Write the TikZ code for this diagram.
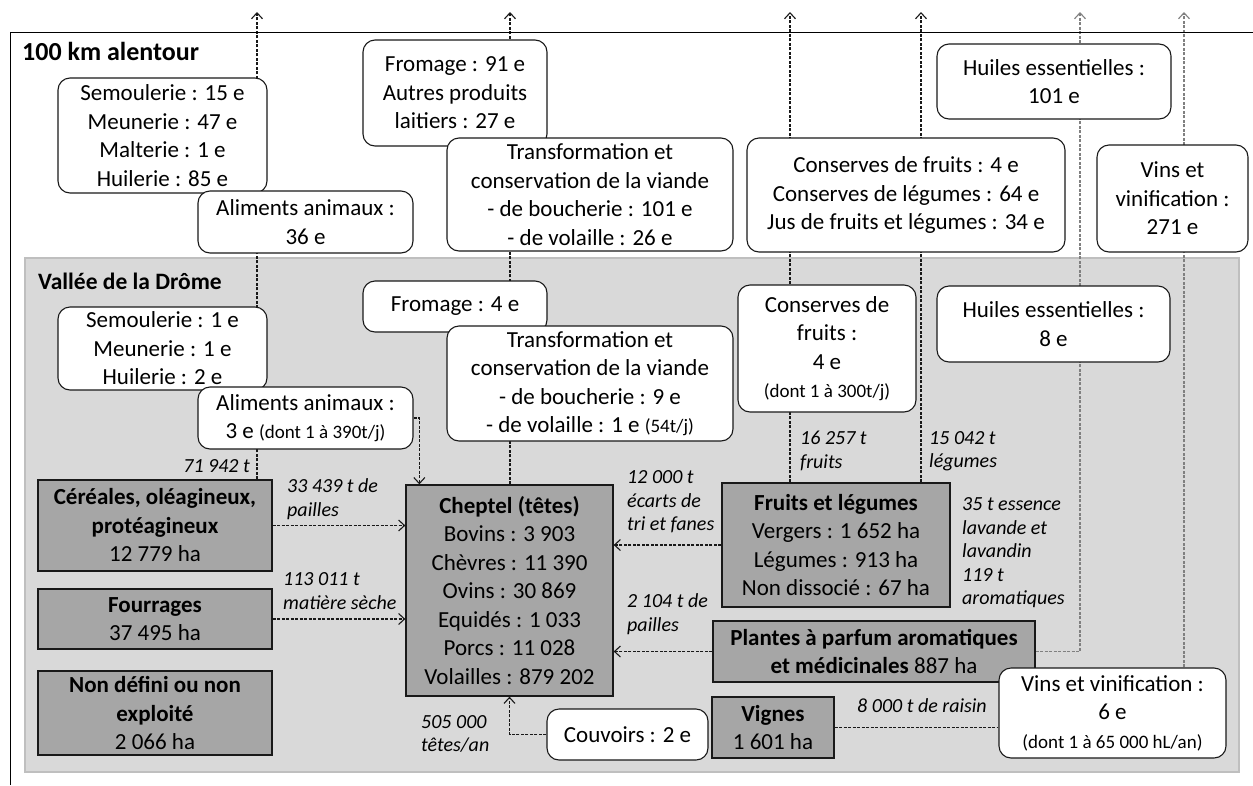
\documentclass[tikz,border=0pt]{standalone}
\usepackage{fontspec}
\setmainfont{Carlito}
\usetikzlibrary{arrows.meta, positioning}

\definecolor{surfgris}{HTML}{A6A6A6}
\definecolor{fondvallee}{HTML}{D9D9D9}
\definecolor{bordvallee}{HTML}{BFBFBF}

\pgfdeclarelayer{fond}
\pgfdeclarelayer{liens}
\pgfsetlayers{fond,liens,main}

\newcommand{\mention}[1]{{\fontsize{19}{23}\selectfont #1}}

\begin{document}
\begin{tikzpicture}[x=1pt, y=-1pt, >={Straight Barb[length=6pt,width=11pt]},
  etab/.style={draw=black!90, fill=white, rounded corners=12pt, line width=1.1pt,
    align=center, inner sep=0pt, font=\fontsize{23}{28.5}\selectfont},
  surf/.style={draw=black!90, fill=surfgris, line width=1.3pt,
    align=center, inner sep=0pt, font=\fontsize{23}{28.5}\selectfont},
  boite/.style 2 args={minimum width=#1, minimum height=#2},
  flux/.style={align=left, inner sep=0pt, anchor=west, font=\fontsize{20}{23.5}\selectfont\itshape},
  lien/.style={draw=black!90, line width=1.1pt, dash pattern=on 3pt off 1.5pt},
  lieng/.style={lien, draw=black!50}]

  \useasboundingbox (0,0) rectangle (1253,785);

  % Cadres
  \draw[line width=1pt] (10,785) |- (1253,32);
  \begin{pgfonlayer}{fond}
    \draw[fill=fondvallee, draw=bordvallee, line width=1.5pt] (25,258) rectangle (1239,772);
  \end{pgfonlayer}
  \node[anchor=west, inner sep=0pt, font=\bfseries\fontsize{26}{30}\selectfont] (titreA) at (22,51) {100 km alentour};
  \node[anchor=west, inner sep=0pt, font=\bfseries\fontsize{23.5}{28}\selectfont] (titreB) at (38,281) {Vallée de la Drôme};

  % Etablissements dans les 100 km
  \node[etab, boite={209}{115}] (semA) at (162.5,135.5) {Semoulerie : 15 e\\Meunerie : 47 e\\Malterie : 1 e\\Huilerie : 85 e};
  \node[etab, boite={215}{62}] (alimA) at (305.5,222) {Aliments animaux :\\36 e};
  \node[etab, boite={184}{106}] (fromA) at (455,93) {Fromage : 91 e\\Autres produits\\laitiers : 27 e};
  \node[etab, boite={286}{113}] (viandeA) at (590,194.5) {Transformation et\\conservation de la viande\\- de boucherie : 101 e\\- de volaille : 26 e};
  \node[etab, boite={318}{114}] (consA) at (906,195) {Conserves de fruits : 4 e\\Conserves de légumes : 64 e\\Jus de fruits et légumes : 34 e};
  \node[etab, boite={234}{75}] (huilesA) at (1054,81.5) {Huiles essentielles :\\101 e};
  \node[etab, boite={151}{107}] (vinsA) at (1172.5,198.5) {Vins et\\vinification :\\271 e};

  % Etablissements de la vallee
  \node[etab, boite={209}{83}] (semB) at (162.5,348.5) {Semoulerie : 1 e\\Meunerie : 1 e\\Huilerie : 2 e};
  \node[etab, boite={215}{62}] (alimB) at (305.5,418) {Aliments animaux :\\3 e \mention{(dont 1 à 390t/j)}};
  \node[etab, boite={184}{51}] (fromB) at (455,306.5) {Fromage : 4 e};
  \node[etab, boite={286}{115}] (viandeB) at (590,383.5) {Transformation et\\conservation de la viande\\- de boucherie : 9 e\\- de volaille : 1 e \mention{(54t/j)}};
  \node[etab, boite={178}{127}] (consB) at (827,348.5) {Conserves de\\fruits :\\4 e\\\mention{(dont 1 à 300t/j)}};
  \node[etab, boite={233}{76}] (huilesB) at (1053.5,324) {Huiles essentielles :\\8 e};
  \node[etab, boite={161}{51}] (couv) at (627.5,734.5) {Couvoirs : 2 e};

  % Surfaces et cheptel
  \node[surf, boite={234}{91}] (cereales) at (155,525.5) {\textbf{Céréales, oléagineux,}\\\textbf{protéagineux}\\12 779 ha};
  \node[surf, boite={234}{60}] (fourrages) at (155,619) {\textbf{Fourrages}\\37 495 ha};
  \node[surf, boite={234}{84}] (nondef) at (155,713) {\textbf{Non défini ou non}\\\textbf{exploité}\\2 066 ha};
  \node[surf, boite={207}{211}] (cheptel) at (509.5,590.5) {\textbf{Cheptel (têtes)}\\Bovins : 3 903\\Chèvres : 11 390\\Ovins : 30 869\\Equidés : 1 033\\Porcs : 11 028\\Volailles : 879 202};
  \node[surf, boite={228}{124}] (fruits) at (836,545) {\textbf{Fruits et légumes}\\Vergers : 1 652 ha\\Légumes : 913 ha\\Non dissocié : 67 ha};
  \node[surf, boite={322}{61}] (plantes) at (874,651.5) {\textbf{Plantes à parfum aromatiques}\\\textbf{et médicinales} 887 ha};
  \node[surf, boite={122}{61}] (vignes) at (773,727.5) {\textbf{Vignes}\\1 601 ha};
  \node[etab, boite={227}{90}] (vinsB) at (1112.5,713) {Vins et vinification :\\6 e\\\mention{(dont 1 à 65 000 hL/an)}};

  % Flux
  \node[flux, anchor=east] (f1) at (250,466) {71 942 t};
  \node[flux] (f2) at (287,499) {33 439 t de\\pailles};
  \node[flux] (f3) at (283,591) {113 011 t\\matière sèche};
  \node[flux] (f4) at (627,502) {12 000 t\\écarts de\\tri et fanes};
  \node[flux] (f5) at (627,614) {2 104 t de\\pailles};
  \node[flux] (f6) at (421,734) {505 000\\têtes/an};
  \node[flux] (f7) at (800,451) {16 257 t\\fruits};
  \node[flux] (f8) at (929,451) {15 042 t\\légumes};
  \node[flux] (f9) at (962,553) {35 t essence\\lavande et\\lavandin\\119 t\\aromatiques};
  \node[flux, anchor=center] (f10) at (922,706) {8 000 t de raisin};

  \coordinate (hautA) at (257,12);
  \coordinate (hautB) at (510,12);
  \coordinate (hautC) at (790,12);
  \coordinate (hautD) at (921,12);
  \coordinate (hautE) at (1080,12);
  \coordinate (hautF) at (1184,12);

  \begin{pgfonlayer}{liens}
    \draw[lien,->] (hautA |- cereales.north) -- (hautA);
    \draw[lien,->] (hautB |- cheptel.north) -- (hautB);
    \draw[lien,->] (hautC |- fruits.north) -- (hautC);
    \draw[lien,->] (hautD |- fruits.north) -- (hautD);
    \draw[lieng,->] (plantes.east) -| (hautE);
    \draw[lieng,->] (hautF |- vinsB.north) -- (hautF);
    \draw[lien,->] (cereales.east) -- (cereales.east -| cheptel.west);
    \draw[lien,->] (fourrages.east) -- (fourrages.east -| cheptel.west);
    \draw[lien,->] (fruits.west) -- (fruits.west -| cheptel.east);
    \draw[lien,->] (plantes.west) -- (plantes.west -| cheptel.east);
    \draw[lien,->] (couv.west) -| (cheptel.south);
    \draw[lien,->] (alimB.east) -| ([xshift=14pt]cheptel.north west);
    \draw[lien] (vignes.east) -- (vignes.east -| vinsB.west);
  \end{pgfonlayer}

\end{tikzpicture}
\end{document}
